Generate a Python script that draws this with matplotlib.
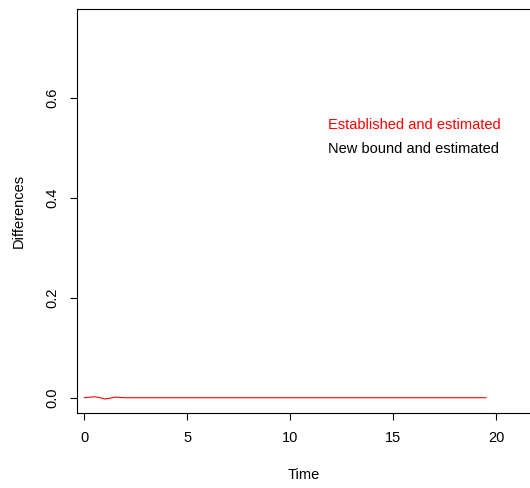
import matplotlib
matplotlib.use("Agg")
import matplotlib.pyplot as plt

plt.rcParams['font.family'] = ['Liberation Sans', 'DejaVu Sans']

# Data
time = [0.0, 0.25, 0.5, 0.75, 1.0, 1.25, 1.5, 1.75, 2.0, 2.5, 3.0, 4.0, 5.0, 6.0,
        7.0, 8.0, 9.0, 10.0, 11.0, 12.0, 13.0, 14.0, 15.0, 16.0, 17.0, 18.0, 19.0, 19.5]
diff_established = [0.0, 0.001, 0.002, 0.0, -0.0025, -0.001, 0.0012, 0.0005, 0.0, 0.0, 0.0,
                    0.0, 0.0, 0.0, 0.0, 0.0, 0.0, 0.0, 0.0, 0.0, 0.0, 0.0, 0.0, 0.0,
                    0.0, 0.0, 0.0, 0.0]
xticks = [0, 5, 10, 15, 20]
yticks = [0.0, 0.2, 0.4, 0.6]
ytick_labels = ["0.0", "0.2", "0.4", "0.6"]
legend_labels = ["Established and estimated", "New bound and estimated"]
legend_colors = ["#FF0000", "#000000"]

FS = 10.5
W, H = 530, 488
fig = plt.figure(figsize=(W / 100, H / 100), dpi=100)
left, right = 77.3, 530.0
bottom, top = 412.7, 8.7
ax = fig.add_axes([left / W, (H - bottom) / H, (right - left) / W, (bottom - top) / H])

ax.plot(time, diff_established, color="#FF0000", lw=0.8)

ax.set_xlim(-0.34, 21.64)
ax.set_ylim(-0.03, 0.7786)

ax.set_xticks(xticks)
ax.set_xticklabels([str(t) for t in xticks])
ax.set_yticks(yticks)
ax.set_yticklabels(ytick_labels, rotation=90, va='center')

for s in ['left', 'bottom', 'top']:
    ax.spines[s].set_linewidth(0.8)
    ax.spines[s].set_color('black')
ax.spines['right'].set_visible(False)

ax.tick_params(axis='both', length=5, width=0.8, labelsize=FS, direction='out', color='black')
ax.tick_params(axis='x', pad=8)
ax.tick_params(axis='y', pad=8)

ax.set_xlabel("Time", fontsize=FS, labelpad=16.5)
ax.set_ylabel("Differences", fontsize=FS, labelpad=14)

ax.text((414 - left) / (right - left), (bottom - 125) / (bottom - top), legend_labels[0],
        transform=ax.transAxes, color=legend_colors[0], fontsize=FS, ha='center', va='center')
ax.text((414 - left) / (right - left), (bottom - 149) / (bottom - top), legend_labels[1],
        transform=ax.transAxes, color=legend_colors[1], fontsize=FS, ha='center', va='center')

fig.savefig("out.png", dpi=100)
